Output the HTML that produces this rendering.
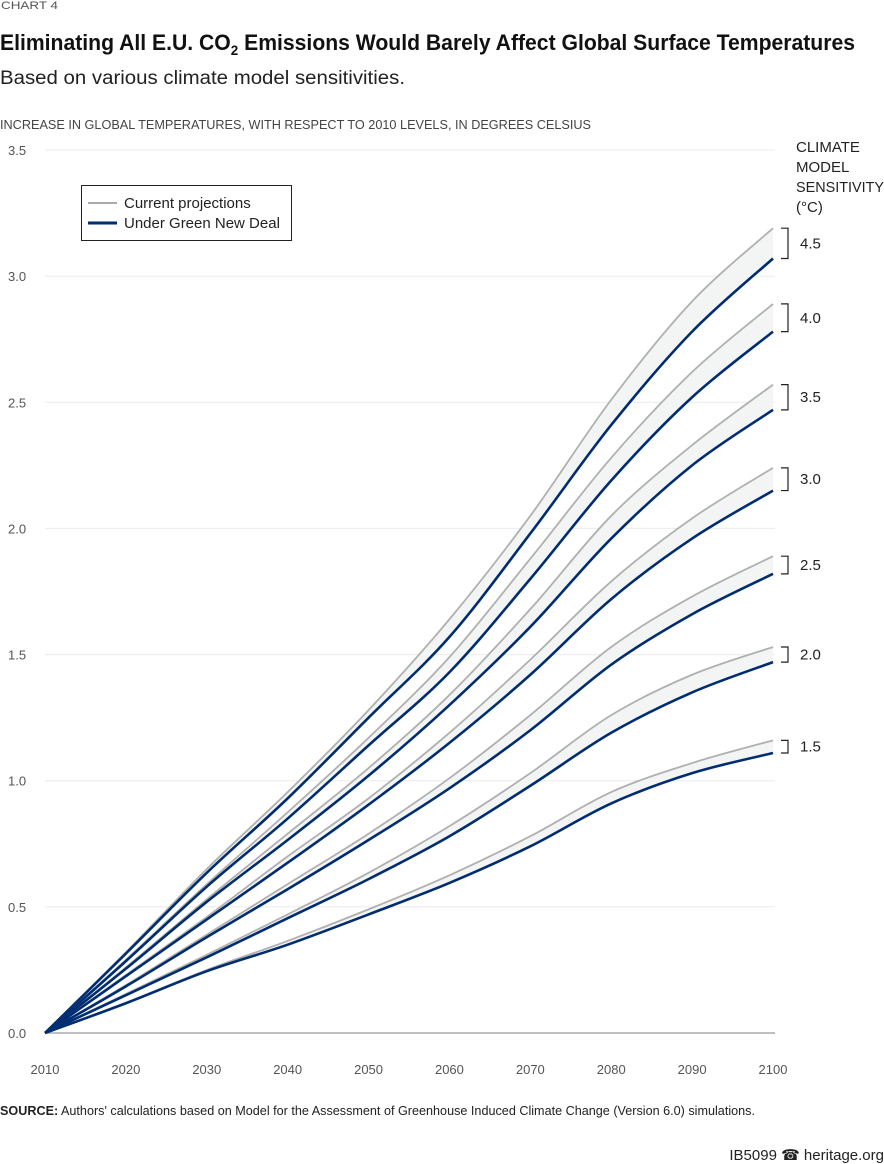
<!DOCTYPE html>
<html><head><meta charset="utf-8"><style>
body{margin:0;background:#fff}
svg{display:block;font-family:"Liberation Sans",sans-serif}
</style></head><body>
<svg id="chart" width="884" height="1164" viewBox="0 0 884 1164">
<text x="1" y="9" font-size="11" fill="#555" textLength="57" lengthAdjust="spacingAndGlyphs">CHART 4</text>
<text x="0" y="50" font-size="22" font-weight="bold" fill="#111" textLength="855" lengthAdjust="spacingAndGlyphs">Eliminating All E.U. CO<tspan font-size="14" dy="5">2</tspan><tspan dy="-5"> Emissions Would Barely Affect Global Surface Temperatures</tspan></text>
<text x="0" y="84" font-size="19" fill="#222" textLength="405" lengthAdjust="spacingAndGlyphs">Based on various climate model sensitivities.</text>
<text x="0" y="129" font-size="13" fill="#444" textLength="591" lengthAdjust="spacingAndGlyphs">INCREASE IN GLOBAL TEMPERATURES, WITH RESPECT TO 2010 LEVELS, IN DEGREES CELSIUS</text>
<g font-size="15" fill="#222">
<text x="796" y="152">CLIMATE</text><text x="796" y="172">MODEL</text>
<text x="796" y="192" textLength="88" lengthAdjust="spacingAndGlyphs">SENSITIVITY</text><text x="796" y="212">(°C)</text>
</g>
<g id="grid"></g>
<g id="bands"></g>
<g id="lines"></g>
<g id="brackets"></g>
<g id="xticks"></g>
<g id="yticks"></g>
<g>
<rect x="81.5" y="185.5" width="210" height="55" fill="#fff" stroke="#222" stroke-width="1"/>
<line x1="88" y1="203" x2="117" y2="203" stroke="#aaa" stroke-width="2"/>
<text x="124" y="208" font-size="15" fill="#222">Current projections</text>
<line x1="88" y1="223" x2="117" y2="223" stroke="#002d72" stroke-width="3"/>
<text x="124" y="228" font-size="15" fill="#222">Under Green New Deal</text>
</g>
<text x="0" y="1115" font-size="13" fill="#222" textLength="755" lengthAdjust="spacingAndGlyphs"><tspan font-weight="bold">SOURCE:</tspan> Authors' calculations based on Model for the Assessment of Greenhouse Induced Climate Change (Version 6.0) simulations.</text>
<text x="884" y="1160" font-size="15" fill="#222" text-anchor="end">IB5099 ☎ heritage.org</text>
</svg>
<script>
const years=[2010,2020,2030,2040,2050,2060,2070,2080,2090,2100];
const sensitivities=["4.5","4.0","3.5","3.0","2.5","2.0","1.5"];
const current45=[0,.32,.65,.955,1.28,1.64,2.05,2.51,2.90,3.19];
const current40=[0,.29,.59,.875,1.17,1.49,1.88,2.28,2.62,2.89];
const current35=[0,.26,.53,.79,1.05,1.34,1.68,2.05,2.33,2.57];
const current30=[0,.23,.46,.70,.93,1.19,1.48,1.79,2.04,2.24];
const current25=[0,.19,.39,.59,.79,1.01,1.26,1.53,1.73,1.89];
const current20=[0,.155,.31,.47,.635,.82,1.03,1.26,1.42,1.53];
const current15=[0,.12,.25,.365,.49,.625,.78,.955,1.07,1.16];
const gnd45=[0,.315,.635,.93,1.25,1.57,1.98,2.41,2.78,3.07];
const gnd40=[0,.285,.58,.85,1.14,1.43,1.80,2.19,2.52,2.78];
const gnd35=[0,.255,.52,.765,1.02,1.30,1.61,1.96,2.25,2.47];
const gnd30=[0,.225,.45,.675,.905,1.15,1.42,1.72,1.96,2.15];
const gnd25=[0,.185,.38,.57,.765,.97,1.20,1.46,1.66,1.82];
const gnd20=[0,.15,.30,.455,.61,.78,.98,1.19,1.35,1.47];
const gnd15=[0,.118,.245,.35,.47,.595,.74,.91,1.03,1.11];
const yTicks=["0.0","0.5","1.0","1.5","2.0","2.5","3.0","3.5"];
const xTicks=["2010","2020","2030","2040","2050","2060","2070","2080","2090","2100"];

const currents=[current45,current40,current35,current30,current25,current20,current15];
const gnds=[gnd45,gnd40,gnd35,gnd30,gnd25,gnd20,gnd15];
const NS="http://www.w3.org/2000/svg";
const X=yr=>45+(yr-2010)*(773-45)/90;
const Y=v=>1033-v*(1033-150)/3.5;
function mk(tag,attrs,parent){const e=document.createElementNS(NS,tag);for(const k in attrs)e.setAttribute(k,attrs[k]);document.getElementById(parent).appendChild(e);return e;}
function segs(pts){
  let d="";
  for(let i=0;i<pts.length-1;i++){
    const p0=pts[Math.max(0,i-1)],p1=pts[i],p2=pts[i+1],p3=pts[Math.min(pts.length-1,i+2)];
    const c1=[p1[0]+(p2[0]-p0[0])/6,p1[1]+(p2[1]-p0[1])/6];
    const c2=[p2[0]-(p3[0]-p1[0])/6,p2[1]-(p3[1]-p1[1])/6];
    d+=" C"+c1[0]+","+c1[1]+" "+c2[0]+","+c2[1]+" "+p2[0]+","+p2[1];
  }
  return d;
}
function smooth(pts){return "M"+pts[0][0]+","+pts[0][1]+segs(pts);}
function pts(arr){return arr.map((v,i)=>[X(years[i]),Y(v)]);}
yTicks.forEach(t=>{
  const v=parseFloat(t);
  const g=mk("line",{x1:45,x2:775,y1:Y(v),y2:Y(v),stroke:v===0?"#aaa":"#ebebeb","stroke-width":v===0?1.5:1},"grid");
  
  
  const tx=mk("text",{x:8,y:Y(v)+5,"font-size":13,fill:"#555"},"yticks");tx.textContent=t;
  
  
});
xTicks.forEach(t=>{
  const tx=mk("text",{x:X(+t),y:1074,"font-size":13,fill:"#555","text-anchor":"middle"},"xticks");tx.textContent=t;
  
  
});
sensitivities.forEach((s,k)=>{
  const c=pts(currents[k]),g=pts(gnds[k]);
  const gr=g.slice().reverse();
  const band=mk("path",{d:smooth(c)+" L"+gr[0][0]+","+gr[0][1]+segs(gr)+" Z",fill:"#f3f5f5",stroke:"none"},"bands");
  
  
  const lc=mk("path",{d:smooth(c),fill:"none",stroke:"#b0b0b0","stroke-width":1.8},"lines");
  
  
  const lg=mk("path",{d:smooth(g),fill:"none",stroke:"#002d72","stroke-width":2.6},"lines");
  
  
  const yc=Y(currents[k][9]),yg=Y(gnds[k][9]);
  const br=mk("path",{d:`M781,${yc} H788 V${yg} H781`,fill:"none",stroke:"#222","stroke-width":1.2},"brackets");
  
  
  const lb=mk("text",{x:800,y:(yc+yg)/2+5,"font-size":15,fill:"#222"},"brackets");lb.textContent=s;
  
  
});
</script>
</body></html>
